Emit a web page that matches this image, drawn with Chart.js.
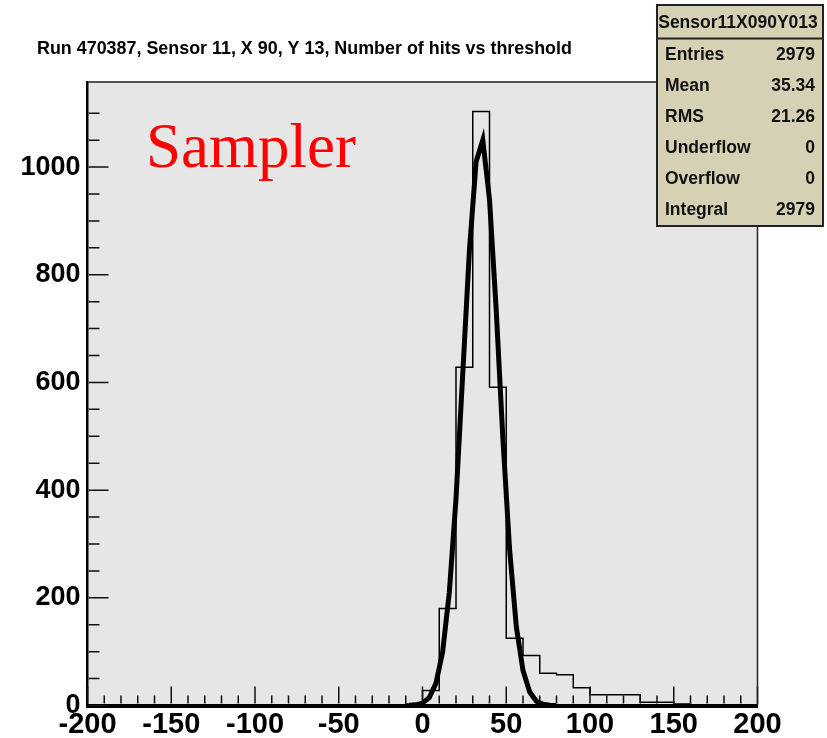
<!DOCTYPE html>
<html>
<head>
<meta charset="utf-8">
<script src="https://cdn.jsdelivr.net/npm/chart.js@4.4.0/dist/chart.umd.min.js"></script>
<style>
  html, body { margin: 0; padding: 0; background: #fff; }
  #wrap { width: 827px; height: 738px; }
</style>
</head>
<body>
<div id="wrap"><canvas id="myChart" width="827" height="738"></canvas></div>
<script>
"use strict";

const titleText = "Run 470387, Sensor 11, X 90, Y 13, Number of hits vs threshold";
const histName = "Sensor11X090Y013";
const statLabels = ["Entries", "Mean", "RMS", "Underflow", "Overflow", "Integral"];
const statValues = ["2979", "35.34", "21.26", "0", "0", "2979"];
const stampText = "Sampler";

// histogram: low edge of each 10-wide bin and its count
const binLow = [-10, 0, 10, 20, 30, 40, 50, 60, 70, 80, 90, 100, 110, 120, 130, 140, 150];
const binCounts = [3, 28, 180, 628, 1103, 591, 125, 93, 60, 57, 33, 20, 20, 20, 6, 6, 3];
const binWidth = 10;

// gaussian fit
const fitX = [-8, -4, 0, 4, 8, 12, 16, 20, 24, 28, 32, 36, 40, 44, 48, 52, 56, 60, 64, 68, 72, 76, 80];
const fitY = [0.3, 1.2, 4.5, 14.5, 41, 99, 210, 384, 615, 845, 1010, 1050, 940, 735, 495, 290, 147, 65, 25, 8, 2.4, 0.6, 0.1];

const xMin = -200;
const xMax = 200;
const yMax = 1158;

const FONT = "'Liberation Sans', Arial, sans-serif";

function histPoints() {
  const pts = [{ x: xMin, y: 0 }];
  binLow.forEach((lo, i) => pts.push({ x: lo, y: binCounts[i] }));
  pts.push({ x: binLow[binLow.length - 1] + binWidth, y: 0 });
  pts.push({ x: xMax, y: 0 });
  return pts;
}

function fitPoints() {
  return fitX.map((x, i) => ({ x: x, y: fitY[i] }));
}

const frameBg = {
  id: "frameBg",
  beforeDraw(chart) {
    const { ctx, chartArea: a } = chart;
    ctx.save();
    ctx.fillStyle = "#e6e6e6";
    ctx.fillRect(a.left, a.top, a.right - a.left, a.bottom - a.top);
    ctx.restore();
  },
};

const rootFrame = {
  id: "rootFrame",
  afterDraw(chart) {
    const { ctx, chartArea: a } = chart;
    const xs = chart.scales.x;
    const ys = chart.scales.y;
    ctx.save();

    // inward ticks like ROOT
    ctx.strokeStyle = "#111";
    ctx.lineWidth = 1.5;
    ctx.beginPath();
    xs.ticks.forEach((t) => {
      if (t.value % 10 !== 0) return;
      const px = xs.getPixelForValue(t.value);
      const len = t.value % 50 === 0 ? 17 : 8;
      ctx.moveTo(px, a.bottom - 2);
      ctx.lineTo(px, a.bottom - 2 - len);
    });
    ys.ticks.forEach((t) => {
      if (t.value % 50 !== 0) return;
      const py = ys.getPixelForValue(t.value);
      const len = t.value % 200 === 0 ? 20 : 11;
      ctx.moveTo(a.left + 1, py);
      ctx.lineTo(a.left + 1 + len, py);
    });
    ctx.stroke();

    // top and right frame lines
    ctx.strokeStyle = "#222";
    ctx.beginPath();
    ctx.moveTo(a.left, a.top);
    ctx.lineTo(a.right, a.top);
    ctx.lineTo(a.right, a.bottom);
    ctx.stroke();

    // title
    ctx.fillStyle = "#000";
    ctx.font = "bold 17.9px " + FONT;
    ctx.textAlign = "left";
    ctx.textBaseline = "alphabetic";
    ctx.fillText(titleText, 37, 54);

    // red stamp
    ctx.fillStyle = "#ff0000";
    ctx.font = "63px 'Liberation Serif', 'Times New Roman', serif";
    ctx.fillText(stampText, 146, 167);

    // stats box
    const bx = 657, by = 5, bw = 166, bh = 221;
    ctx.fillStyle = "#d6d1b5";
    ctx.fillRect(bx, by, bw, bh);
    ctx.strokeStyle = "#222";
    ctx.lineWidth = 2;
    ctx.strokeRect(bx, by, bw, bh);
    ctx.beginPath();
    ctx.moveTo(bx, 38.5);
    ctx.lineTo(bx + bw, 38.5);
    ctx.stroke();

    ctx.fillStyle = "#111";
    ctx.font = "bold 17.5px " + FONT;
    ctx.textBaseline = "middle";
    ctx.textAlign = "center";
    ctx.fillText(histName, bx + bw / 2 - 2, 23);
    statLabels.forEach((lab, i) => {
      const y = 55 + i * 31;
      ctx.textAlign = "left";
      ctx.fillText(lab, 665, y);
      ctx.textAlign = "right";
      ctx.fillText(statValues[i], 815, y);
    });

    ctx.restore();
  },
};

const ctx = document.getElementById("myChart").getContext("2d");

const config = {
  type: "line",
  data: {
    datasets: [
      {
        label: "fit",
        data: fitPoints(),
        borderColor: "#000",
        borderWidth: 5,
        pointRadius: 0,
        tension: 0,
        fill: false,
        order: 0,
      },
      {
        label: histName,
        data: histPoints(),
        borderColor: "#000",
        borderWidth: 1.5,
        pointRadius: 0,
        stepped: true,
        fill: false,
        order: 1,
      },
    ],
  },
  options: {
    responsive: false,
    animation: false,
    devicePixelRatio: 1,
    layout: {
      padding: { left: 0, top: 82, right: 69.5, bottom: 0 },
    },
    plugins: {
      legend: { display: false },
      title: { display: false },
      tooltip: { enabled: false },
    },
    scales: {
      x: {
        type: "linear",
        min: xMin,
        max: xMax,
        afterFit(scale) {
          scale.height = 32.5;
        },
        grid: { drawOnChartArea: false, drawTicks: false, color: "rgba(0,0,0,0)" },
        border: { display: true, color: "#000", width: 4 },
        ticks: {
          stepSize: 10,
          autoSkip: false,
          maxRotation: 0,
          padding: 2,
          color: "#000",
          font: { family: FONT, size: 29, weight: "bold" },
          callback: (v) => (v % 50 === 0 ? String(v) : ""),
        },
      },
      y: {
        type: "linear",
        min: 0,
        max: yMax,
        afterFit(scale) {
          scale.width = 87.5;
        },
        grid: { drawOnChartArea: false, drawTicks: false, color: "rgba(0,0,0,0)" },
        border: { display: true, color: "#000", width: 2.5 },
        ticks: {
          stepSize: 50,
          autoSkip: false,
          padding: 7,
          color: "#000",
          font: { family: FONT, size: 27, weight: "bold" },
          callback: (v) => (v % 200 === 0 ? String(v) : ""),
        },
      },
    },
  },
  plugins: [frameBg, rootFrame],
};

const chart = new Chart(ctx, config);
</script>
</body>
</html>
